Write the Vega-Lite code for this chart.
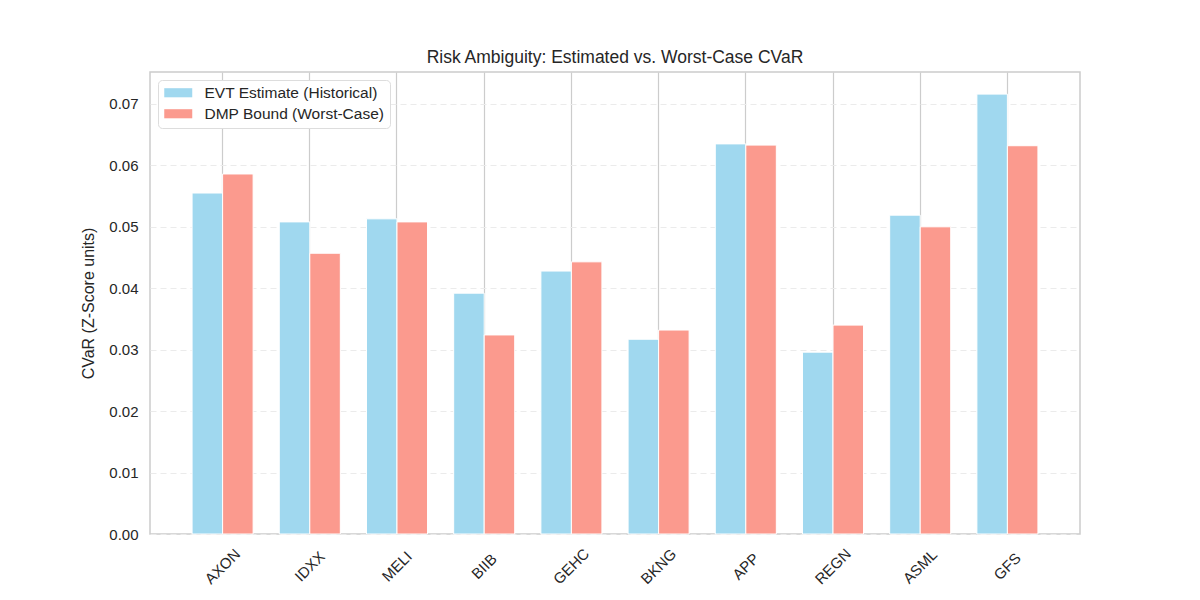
{
  "$schema": "https://vega.github.io/schema/vega-lite/v6.json",
  "autosize": {"type": "none"},
  "padding": {"left": 150, "top": 72, "right": 120, "bottom": 66},
  "width": 930,
  "height": 462,
  "background": "white",
  "title": {"text": "Risk Ambiguity: Estimated vs. Worst-Case CVaR", "fontSize": 17.5, "fontWeight": "normal", "font": "Liberation Sans", "color": "#262626", "offset": 6},
  "config": {
    "font": "Liberation Sans",
    "view": {"stroke": "#cccccc", "strokeWidth": 1.5}
  },
  "data": {"values": [
    {"ticker": "AXON", "series": "EVT Estimate (Historical)", "cvar": 0.0555},
    {"ticker": "AXON", "series": "DMP Bound (Worst-Case)", "cvar": 0.0586},
    {"ticker": "IDXX", "series": "EVT Estimate (Historical)", "cvar": 0.0508},
    {"ticker": "IDXX", "series": "DMP Bound (Worst-Case)", "cvar": 0.0457},
    {"ticker": "MELI", "series": "EVT Estimate (Historical)", "cvar": 0.0513},
    {"ticker": "MELI", "series": "DMP Bound (Worst-Case)", "cvar": 0.0508},
    {"ticker": "BIIB", "series": "EVT Estimate (Historical)", "cvar": 0.0392},
    {"ticker": "BIIB", "series": "DMP Bound (Worst-Case)", "cvar": 0.0324},
    {"ticker": "GEHC", "series": "EVT Estimate (Historical)", "cvar": 0.0428},
    {"ticker": "GEHC", "series": "DMP Bound (Worst-Case)", "cvar": 0.0443},
    {"ticker": "BKNG", "series": "EVT Estimate (Historical)", "cvar": 0.0317},
    {"ticker": "BKNG", "series": "DMP Bound (Worst-Case)", "cvar": 0.0332},
    {"ticker": "APP", "series": "EVT Estimate (Historical)", "cvar": 0.0635},
    {"ticker": "APP", "series": "DMP Bound (Worst-Case)", "cvar": 0.0633},
    {"ticker": "REGN", "series": "EVT Estimate (Historical)", "cvar": 0.0296},
    {"ticker": "REGN", "series": "DMP Bound (Worst-Case)", "cvar": 0.0340},
    {"ticker": "ASML", "series": "EVT Estimate (Historical)", "cvar": 0.0519},
    {"ticker": "ASML", "series": "DMP Bound (Worst-Case)", "cvar": 0.0500},
    {"ticker": "GFS", "series": "EVT Estimate (Historical)", "cvar": 0.0716},
    {"ticker": "GFS", "series": "DMP Bound (Worst-Case)", "cvar": 0.0632}
  ]},
  "mark": {"type": "bar", "stroke": "white", "strokeWidth": 1},
  "encoding": {
    "x": {
      "field": "ticker", "type": "nominal", "sort": null,
      "scale": {"paddingInner": 0.3, "paddingOuter": 0.4825},
      "axis": {
        "title": null, "labelAngle": -45, "labelAlign": "center", "labelBaseline": "middle",
        "labelFontSize": 15, "labelColor": "#262626", "labelPadding": 32,
        "ticks": false, "domain": false, "grid": true, "gridColor": "#cccccc", "gridWidth": 1.2,
        "bandPosition": 0.5
      }
    },
    "xOffset": {
      "field": "series", "type": "nominal",
      "sort": ["EVT Estimate (Historical)", "DMP Bound (Worst-Case)"],
      "scale": {"paddingInner": 0, "paddingOuter": 0}
    },
    "y": {
      "field": "cvar", "type": "quantitative",
      "scale": {"domain": [0, 0.0752], "nice": false},
      "axis": {
        "title": "CVaR (Z-Score units)", "titleFontSize": 16, "titleFontWeight": "normal", "titleColor": "#262626", "titlePadding": 12,
        "values": [0, 0.01, 0.02, 0.03, 0.04, 0.05, 0.06, 0.07], "format": ".2f",
        "labelFontSize": 15, "labelColor": "#262626", "labelPadding": 12,
        "ticks": false, "domain": false, "grid": true, "gridColor": "#ebebeb", "gridDash": [6, 4], "gridWidth": 1
      }
    },
    "color": {
      "field": "series", "type": "nominal",
      "sort": ["EVT Estimate (Historical)", "DMP Bound (Worst-Case)"],
      "scale": {"domain": ["EVT Estimate (Historical)", "DMP Bound (Worst-Case)"], "range": ["#a0d8ef", "#fb9a8e"]},
      "legend": {
        "title": null, "orient": "none", "legendX": 8, "legendY": 8,
        "symbolType": "M-2,-0.65L2,-0.65L2,0.65L-2,0.65Z", "symbolSize": 196, "symbolStrokeWidth": 0, "symbolOffset": 7.5,
        "labelFontSize": 15.5, "labelColor": "#262626", "labelOffset": 18.5, "labelLimit": 0,
        "strokeColor": "#dddddd", "fillColor": "white", "cornerRadius": 4, "padding": 5, "rowPadding": 4
      }
    }
  }
}
